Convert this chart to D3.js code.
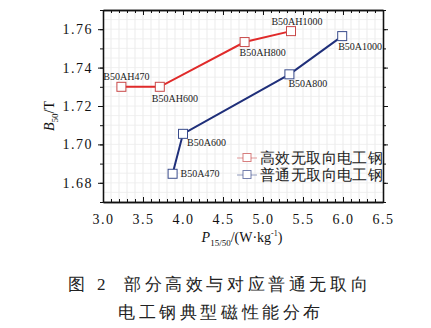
<!DOCTYPE html>
<html>
<head>
<meta charset="utf-8">
<script src="https://cdn.jsdelivr.net/npm/d3@7"></script>
<style>
  body { margin: 0; background: #fff; }
  svg text { font-family: "Liberation Serif", "DejaVu Serif", serif; }
</style>
</head>
<body>
<div id="visContainer"></div>
<script>
'use strict';

// data
var gradeNames = ['B50AH470', 'B50AH600', 'B50AH800', 'B50AH1000'];
var gradeLoss  = [3.23, 3.71, 4.77, 5.35];
var gradeB50   = [1.730, 1.730, 1.7533, 1.759];

var normalNames = ['B50A470', 'B50A600', 'B50A800', 'B50A1000'];
var normalLoss  = [3.87, 4.00, 5.33, 5.99];
var normalB50   = [1.6847, 1.7055, 1.7365, 1.7564];

var seriesNames = ['高效无取向电工钢', '普通无取向电工钢'];
var xTicks = [3.0, 3.5, 4.0, 4.5, 5.0, 5.5, 6.0, 6.5];
var yTicks = [1.68, 1.70, 1.72, 1.74, 1.76];

// label placement (dx, dy, anchor) for each point
var gradeLabelPos  = [[5, -10, 'middle'], [-8, 12, 'start'], [-5, 10, 'start'], [6, -10, 'middle']];
var normalLabelPos = [[8, 0, 'start'], [4, 9, 'start'], [-1, 9, 'start'], [-4, 10, 'start']];

var W = 431, H = 328;
var margin = {top: 10, right: 48, bottom: 126, left: 103};
var pw = W - margin.left - margin.right;
var ph = H - margin.top - margin.bottom;

var svg = d3.select('#visContainer').append('svg')
    .attr('width', W).attr('height', H);

var x = d3.scaleLinear().domain([3.0, 6.5]).range([0, pw]);
var y = d3.scaleLinear().domain([1.67, 1.77]).range([ph, 0]);

var g = svg.append('g').attr('transform', 'translate(' + margin.left + ',' + margin.top + ')');

// grid
g.append('g').selectAll('line').data(d3.range(3.1, 6.5, 0.1))
  .enter().append('line')
  .attr('x1', function(d){ return x(d); }).attr('x2', function(d){ return x(d); })
  .attr('y1', 0).attr('y2', ph)
  .attr('stroke', '#e6e6e6').attr('stroke-width', 0.8);
g.append('g').selectAll('line').data(d3.range(1.675, 1.77, 0.005))
  .enter().append('line')
  .attr('y1', function(d){ return y(d); }).attr('y2', function(d){ return y(d); })
  .attr('x1', 0).attr('x2', pw)
  .attr('stroke', '#ececec').attr('stroke-width', 0.8);

// axes
var minorX = d3.range(3.0, 6.55, 0.1);
var minorY = d3.range(1.67, 1.7701, 0.01);

function styleAxis(sel) {
  sel.select('.domain').attr('stroke', '#111').attr('stroke-width', 1.3);
  sel.selectAll('.tick line').attr('stroke', '#111').attr('stroke-width', 1);
}

var xb = g.append('g').attr('transform', 'translate(0,' + ph + ')')
  .call(d3.axisBottom(x).tickValues(xTicks).tickFormat(d3.format('.1f')).tickSizeInner(-5).tickSizeOuter(0).tickPadding(12));
xb.call(styleAxis);
xb.selectAll('text').attr('font-size', 14).attr('fill', '#111').attr('letter-spacing', 1.5);
g.append('g').attr('transform', 'translate(0,' + ph + ')')
  .call(d3.axisBottom(x).tickValues(minorX).tickFormat('').tickSizeInner(-3).tickSizeOuter(0))
  .call(styleAxis);

var xt = g.append('g')
  .call(d3.axisTop(x).tickValues(xTicks).tickFormat('').tickSizeInner(-5).tickSizeOuter(0));
xt.call(styleAxis);
g.append('g')
  .call(d3.axisTop(x).tickValues(minorX).tickFormat('').tickSizeInner(-3).tickSizeOuter(0))
  .call(styleAxis);

var yl = g.append('g')
  .call(d3.axisLeft(y).tickValues(yTicks).tickFormat(d3.format('.2f')).tickSize(5).tickSizeOuter(0).tickPadding(5));
yl.call(styleAxis);
yl.selectAll('text').attr('font-size', 14).attr('fill', '#111').attr('letter-spacing', 1.5);
g.append('g')
  .call(d3.axisLeft(y).tickValues(minorY).tickFormat('').tickSize(3).tickSizeOuter(0))
  .call(styleAxis);

g.append('g').attr('transform', 'translate(' + pw + ',0)')
  .call(d3.axisRight(y).tickValues(yTicks).tickFormat('').tickSize(5).tickSizeOuter(0))
  .call(styleAxis);
g.append('g').attr('transform', 'translate(' + pw + ',0)')
  .call(d3.axisRight(y).tickValues(minorY).tickFormat('').tickSize(3).tickSizeOuter(0))
  .call(styleAxis);

// series
var series = [
  {names: gradeNames, xs: gradeLoss, ys: gradeB50, line: '#e02a2a', mark: '#c84848', pos: gradeLabelPos},
  {names: normalNames, xs: normalLoss, ys: normalB50, line: '#1f2f7a', mark: '#3a4c8c', pos: normalLabelPos}
];

var line = d3.line()
  .x(function(d){ return x(d[0]); })
  .y(function(d){ return y(d[1]); });

series.forEach(function(s) {
  var pts = s.xs.map(function(v, i){ return [v, s.ys[i], s.names[i], s.pos[i]]; });
  g.append('path').datum(pts)
    .attr('d', line).attr('fill', 'none')
    .attr('stroke', s.line).attr('stroke-width', 2);
  g.selectAll(null).data(pts).enter().append('rect')
    .attr('x', function(d){ return x(d[0]) - 4.5; })
    .attr('y', function(d){ return y(d[1]) - 4.5; })
    .attr('width', 9).attr('height', 9)
    .attr('fill', '#fff').attr('stroke', s.mark).attr('stroke-width', 1);
  g.selectAll(null).data(pts).enter().append('text')
    .attr('x', function(d){ return x(d[0]) + d[3][0]; })
    .attr('y', function(d){ return y(d[1]) + d[3][1]; })
    .attr('dy', '0.35em')
    .attr('text-anchor', function(d){ return d[3][2]; })
    .attr('font-size', 10).attr('fill', '#222')
    .text(function(d){ return d[2]; });
});

// legend
var legend = g.append('g').attr('transform', 'translate(' + (pw - 146) + ',' + (ph - 44) + ')');
seriesNames.forEach(function(name, i) {
  var row = legend.append('g').attr('transform', 'translate(0,' + (i * 17) + ')');
  row.append('line').attr('x1', 0).attr('x2', 20).attr('y1', 0).attr('y2', 0)
    .attr('stroke', series[i].mark).attr('stroke-opacity', 0.55).attr('stroke-width', 1);
  row.append('rect').attr('x', 6).attr('y', -4.5).attr('width', 8).attr('height', 8)
    .attr('fill', '#fff').attr('stroke', series[i].mark).attr('stroke-opacity', 0.7);
  row.append('text').attr('x', 23).attr('dy', '0.35em')
    .attr('font-family', '"Noto Sans CJK SC", sans-serif')
    .attr('font-size', 14.5).attr('fill', '#222').attr('letter-spacing', 0.4)
    .text(name);
});

// axis titles
var yTitle = svg.append('text')
  .attr('transform', 'translate(54,' + (margin.top + 106) + ') rotate(-90)')
  .attr('text-anchor', 'middle').attr('font-size', 14).attr('fill', '#111');
yTitle.append('tspan').attr('font-style', 'italic').text('B');
yTitle.append('tspan').attr('font-size', 9).attr('dy', 4).text('50');
yTitle.append('tspan').attr('dy', -4).text('/T');

var xTitle = svg.append('text')
  .attr('x', 242).attr('y', 242)
  .attr('text-anchor', 'middle').attr('font-size', 14).attr('fill', '#111');
xTitle.append('tspan').attr('font-style', 'italic').text('P');
xTitle.append('tspan').attr('font-size', 9).attr('dy', 4).text('15/50');
xTitle.append('tspan').attr('dy', -4).text('/(W·kg');
xTitle.append('tspan').attr('font-size', 8).attr('dy', -6).text('-1');
xTitle.append('tspan').attr('dy', 6).text(')');

// caption
var cap = svg.append('g').attr('font-family', '"Noto Sans CJK SC", sans-serif')
  .attr('font-weight', 300).attr('fill', '#222');
cap.append('text').attr('x', 68).attr('y', 290).attr('font-size', 17).text('图');
cap.append('text').attr('x', 97).attr('y', 290).attr('font-size', 17).attr('font-family', '"Liberation Serif", serif').text('2');
cap.append('text').attr('x', 124).attr('y', 290).attr('font-size', 17).attr('letter-spacing', 3.6)
  .text('部分高效与对应普通无取向');
cap.append('text').attr('x', 118).attr('y', 318).attr('font-size', 17).attr('letter-spacing', 3.6)
  .text('电工钢典型磁性能分布');
</script>
</body>
</html>
